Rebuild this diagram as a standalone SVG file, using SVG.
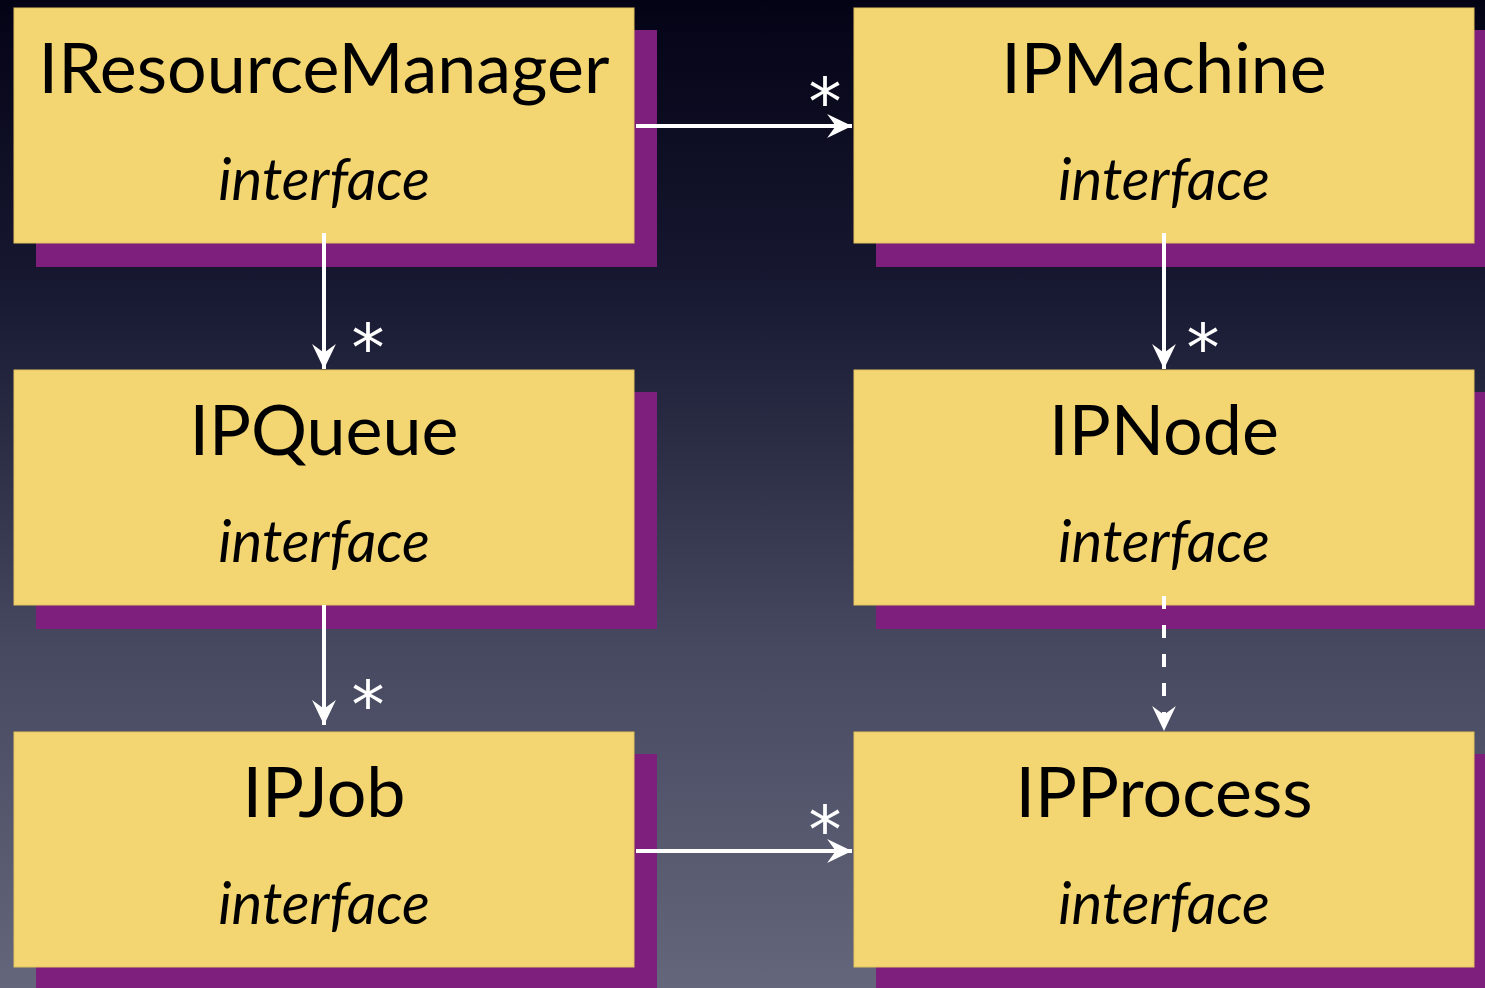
<svg xmlns="http://www.w3.org/2000/svg" width="1485" height="988" viewBox="0 0 1485 988">
<defs>
<linearGradient id="bg" x1="0" y1="0" x2="0" y2="1">
<stop offset="0" stop-color="#040316"/>
<stop offset="0.3" stop-color="#181932"/>
<stop offset="0.65" stop-color="#45485f"/>
<stop offset="1" stop-color="#64667b"/>
</linearGradient>
<marker id="ah" markerUnits="userSpaceOnUse" markerWidth="26" markerHeight="26" refX="23" refY="12" orient="auto" viewBox="0 0 24 24">
<path d="M0,1 L23,12 L0,23 L8,12 Z" fill="#ffffff"/>
</marker>
</defs>
<style>
.shadow{fill:#7e1f7e}
.box{fill:#f3d672;stroke:#e2c25e;stroke-width:1}
.title{font-family:Lato,"Open Sans",sans-serif;font-size:70px;fill:#000;text-anchor:middle}
.sub{font-family:Lato,"Open Sans",sans-serif;font-style:italic;font-size:58px;fill:#000;text-anchor:middle}
.conn{stroke:#ffffff;stroke-width:4;fill:none}
.dash{stroke-dasharray:13 16}
.mult{font-family:"DejaVu Sans",sans-serif;font-size:66px;fill:#ffffff;text-anchor:middle}
</style>
<rect x="0" y="0" width="1485" height="988" fill="url(#bg)"/>

<g id="IResourceManager">
<rect class="shadow" x="36" y="30" width="621" height="237"/>
<rect class="box" x="14" y="8" width="620" height="235"/>
<text class="title" x="324" y="93">IResourceManager</text>
<text class="sub" x="324" y="200">interface</text>
</g>
<g id="IPMachine">
<rect class="shadow" x="876" y="30" width="621" height="237"/>
<rect class="box" x="854" y="8" width="620" height="235"/>
<text class="title" x="1164" y="93">IPMachine</text>
<text class="sub" x="1164" y="200">interface</text>
</g>
<g id="IPQueue">
<rect class="shadow" x="36" y="392" width="621" height="237"/>
<rect class="box" x="14" y="370" width="620" height="235"/>
<text class="title" x="324" y="455">IPQueue</text>
<text class="sub" x="324" y="562">interface</text>
</g>
<g id="IPNode">
<rect class="shadow" x="876" y="392" width="621" height="237"/>
<rect class="box" x="854" y="370" width="620" height="235"/>
<text class="title" x="1164" y="455">IPNode</text>
<text class="sub" x="1164" y="562">interface</text>
</g>
<g id="IPJob">
<rect class="shadow" x="36" y="754" width="621" height="237"/>
<rect class="box" x="14" y="732" width="620" height="235"/>
<text class="title" x="324" y="817">IPJob</text>
<text class="sub" x="324" y="924">interface</text>
</g>
<g id="IPProcess">
<rect class="shadow" x="876" y="754" width="621" height="237"/>
<rect class="box" x="854" y="732" width="620" height="235"/>
<text class="title" x="1164" y="817">IPProcess</text>
<text class="sub" x="1164" y="924">interface</text>
</g>

<g id="connectors">
<line class="conn" x1="636" y1="126" x2="852" y2="126" marker-end="url(#ah)"/>
<line class="conn" x1="324" y1="233" x2="324" y2="369" marker-end="url(#ah)"/>
<line class="conn" x1="1164" y1="233" x2="1164" y2="369" marker-end="url(#ah)"/>
<line class="conn" x1="324" y1="605" x2="324" y2="725" marker-end="url(#ah)"/>
<line class="conn dash" x1="1164" y1="596" x2="1164" y2="731" marker-end="url(#ah)"/>
<line class="conn" x1="636" y1="851" x2="852" y2="851" marker-end="url(#ah)"/>
<text class="mult" x="825" y="125">*</text>
<text class="mult" x="368" y="371">*</text>
<text class="mult" x="1203" y="371">*</text>
<text class="mult" x="368" y="728">*</text>
<text class="mult" x="825" y="853">*</text>
</g>
</svg>
